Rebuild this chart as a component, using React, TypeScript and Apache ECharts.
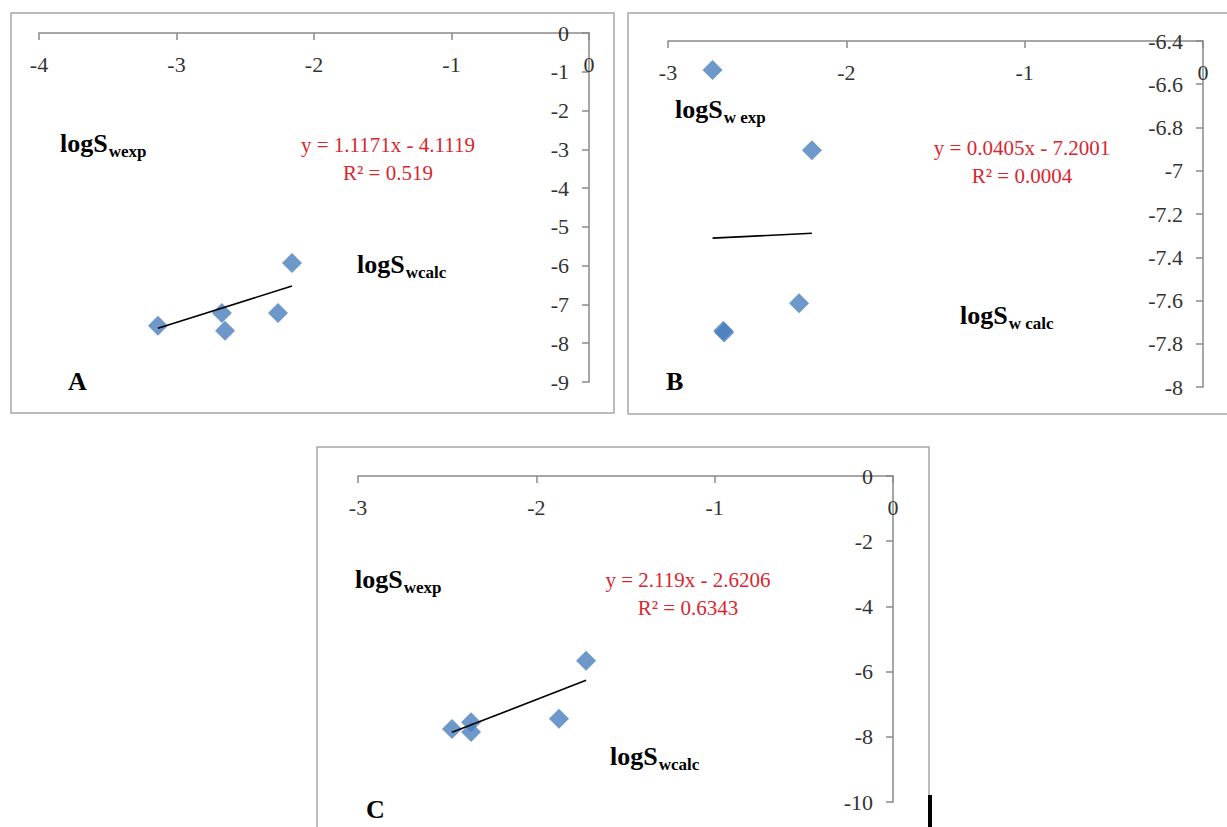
import React, { useEffect, useRef } from "react";
import * as echarts from "echarts";

// Panel A data
const A_X = [-3.135, -2.67, -2.647, -2.262, -2.16];
const A_Y = [-7.55, -7.22, -7.68, -7.22, -5.93];
// Panel B data
const B_X = [-2.75, -2.193, -2.265, -2.69, -2.685];
const B_Y = [-6.534, -6.905, -7.613, -7.74, -7.748];
// Panel C data
const C_X = [-2.473, -2.366, -2.366, -1.873, -1.721];
const C_Y = [-7.76, -7.55, -7.85, -7.45, -5.67];

// Trend line coefficients [slope, intercept]
const A_TREND = [1.1171, -4.1119];
const B_TREND = [0.0405, -7.2001];
const C_TREND = [2.119, -2.6206];

const A_EQ = ["y = 1.1171x - 4.1119", "R² = 0.519"];
const B_EQ = ["y = 0.0405x - 7.2001", "R² = 0.0004"];
const C_EQ = ["y = 2.119x - 2.6206", "R² = 0.6343"];

// axis ranges [min, max, interval]
const A_XR = [-4, 0, 1];
const A_YR = [-9, 0, 1];
const B_XR = [-3, 0, 1];
const B_YR = [-8, -6.4, 0.2];
const C_XR = [-3, 0, 1];
const C_YR = [-10, 0, 2];

const SERIF = "'Liberation Serif', 'Times New Roman', serif";
const AXIS_COLOR = "#8a8a8a";
const MARK_COLOR = "#4a7dbd";
const EQ_COLOR = "#d9262f";

function zip(xs: number[], ys: number[]) {
  return xs.map((x, i) => [x, ys[i]]);
}

function trend(xs: number[], t: number[]) {
  const lo = Math.min(...xs);
  const hi = Math.max(...xs);
  return [
    [lo, t[0] * lo + t[1]],
    [hi, t[0] * hi + t[1]],
  ];
}

function fmt(v: number) {
  const r = parseFloat(v.toFixed(1));
  return String(r);
}

function xAxisCfg(idx: number, r: number[]) {
  return {
    gridIndex: idx,
    type: "value",
    position: "top",
    min: r[0],
    max: r[1],
    interval: r[2],
    axisLine: { show: true, onZero: false, lineStyle: { color: AXIS_COLOR, width: 1.5 } },
    axisTick: { show: true, inside: true, length: 7, lineStyle: { color: AXIS_COLOR, width: 1.5 } },
    axisLabel: {
      inside: true,
      margin: 20,
      fontSize: 22,
      fontFamily: SERIF,
      color: "#333",
      formatter: fmt,
    },
    splitLine: { show: false },
  };
}

function yAxisCfg(idx: number, r: number[]) {
  return {
    gridIndex: idx,
    type: "value",
    position: "right",
    min: r[0],
    max: r[1],
    interval: r[2],
    axisLine: { show: true, onZero: false, lineStyle: { color: AXIS_COLOR, width: 1.5 } },
    axisTick: { show: true, inside: true, length: 7, lineStyle: { color: AXIS_COLOR, width: 1.5 } },
    axisLabel: {
      inside: true,
      margin: 20,
      fontSize: 22,
      fontFamily: SERIF,
      color: "#333",
      formatter: fmt,
    },
    splitLine: { show: false },
  };
}

function scatter(idx: number, xs: number[], ys: number[]) {
  return {
    type: "scatter",
    xAxisIndex: idx,
    yAxisIndex: idx,
    symbol: "diamond",
    symbolSize: 20,
    itemStyle: { color: MARK_COLOR },
    data: zip(xs, ys),
    z: 2,
  };
}

function trendSeries(idx: number, xs: number[], t: number[]) {
  return {
    type: "line",
    xAxisIndex: idx,
    yAxisIndex: idx,
    showSymbol: false,
    symbol: "none",
    lineStyle: { color: "#000", width: 1.6 },
    data: trend(xs, t),
    z: 3,
  };
}

function txt(x: number, baseline: number, text: string, size: number, opts: any = {}) {
  return {
    type: "text",
    x,
    y: baseline - 0.34 * size,
    style: {
      text,
      fontSize: size,
      fontFamily: SERIF,
      fontWeight: opts.bold ? "bold" : "normal",
      fill: opts.color || "#000",
      align: opts.align || "left",
      verticalAlign: "middle",
    },
  };
}

function logLabel(x: number, baseline: number, sub: string) {
  const fs = 26;
  return [
    txt(x, baseline, "logS", fs, { bold: true }),
    txt(x + 1.834 * fs + 1, baseline + 5, sub, 17, { bold: true }),
  ];
}

function eq(cx: number, baseline: number, lines: string[]) {
  return [
    txt(cx, baseline, lines[0], 21, { color: EQ_COLOR, align: "center" }),
    txt(cx, baseline + 28, lines[1], 21, { color: EQ_COLOR, align: "center" }),
  ];
}

function frame(x: number, y: number, w: number, h: number) {
  return {
    type: "rect",
    shape: { x, y, width: w, height: h },
    style: { fill: "none", stroke: "#a6a6a6", lineWidth: 1.5 },
    silent: true,
  };
}

export default function App() {
  const ref = useRef<HTMLDivElement>(null);
  useEffect(() => {
    document.body.style.margin = "0";
    if (!ref.current) return;
    const chart = echarts.init(ref.current, null, { renderer: "svg" });
    chart.setOption({
      animation: false,
      backgroundColor: "#fff",
      grid: [
        { left: 39, top: 33, width: 550, height: 349 },
        { left: 668, top: 41, width: 535, height: 346 },
        { left: 358, top: 476, width: 535, height: 326 },
      ],
      xAxis: [xAxisCfg(0, A_XR), xAxisCfg(1, B_XR), xAxisCfg(2, C_XR)],
      yAxis: [yAxisCfg(0, A_YR), yAxisCfg(1, B_YR), yAxisCfg(2, C_YR)],
      series: [
        scatter(0, A_X, A_Y),
        trendSeries(0, A_X, A_TREND),
        scatter(1, B_X, B_Y),
        trendSeries(1, B_X, B_TREND),
        scatter(2, C_X, C_Y),
        trendSeries(2, C_X, C_TREND),
      ],
      graphic: [
        frame(11, 13, 603, 400),
        frame(628, 13, 610, 401),
        frame(317, 447, 612, 400),
        {
          type: "rect",
          shape: { x: 928, y: 795, width: 4, height: 40 },
          style: { fill: "#000" },
        },
        ...logLabel(60, 152, "wexp"),
        ...logLabel(357, 273, "wcalc"),
        ...eq(388, 152, A_EQ),
        txt(68, 390, "A", 26, { bold: true }),
        ...logLabel(675, 118, "w exp"),
        ...logLabel(960, 324, "w calc"),
        ...eq(1022, 155, B_EQ),
        txt(666, 390, "B", 26, { bold: true }),
        ...logLabel(355, 588, "wexp"),
        ...logLabel(610, 765, "wcalc"),
        ...eq(688, 587, C_EQ),
        txt(366, 818, "C", 26, { bold: true }),
      ],
    });
    return () => chart.dispose();
  }, []);
  return <div ref={ref} style={{ width: 1227, height: 827 }} />;
}
